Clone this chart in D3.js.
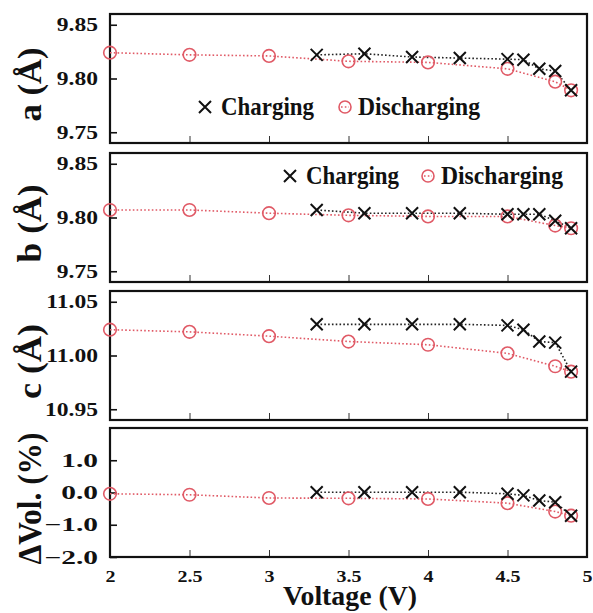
<!DOCTYPE html>
<html>
<head>
<meta charset="utf-8">
<script src="https://cdn.jsdelivr.net/npm/d3@7"></script>
<style>
  body { margin: 0; background: #fff; }
  text { font-family: "Liberation Serif", "Times New Roman", serif; font-weight: bold; fill: #111; }
</style>
</head>
<body>
<div id="chart"></div>
<script>
// voltages of each scan
var chargeV = [3.3, 3.6, 3.9, 4.2, 4.5, 4.6, 4.7, 4.8, 4.9];
var dischargeV = [2.0, 2.5, 3.0, 3.5, 4.0, 4.5, 4.8, 4.9];

// lattice parameters
var aCharge = [9.822, 9.823, 9.820, 9.819, 9.818, 9.8175, 9.809, 9.807, 9.789];
var aDischarge = [9.824, 9.822, 9.821, 9.816, 9.815, 9.809, 9.797, 9.789];
var bCharge = [9.807, 9.804, 9.804, 9.804, 9.803, 9.803, 9.803, 9.797, 9.790];
var bDischarge = [9.807, 9.807, 9.804, 9.802, 9.801, 9.801, 9.7925, 9.790];
var cCharge = [11.029, 11.029, 11.029, 11.029, 11.028, 11.024, 11.013, 11.012, 10.985];
var cDischarge = [11.024, 11.022, 11.018, 11.013, 11.010, 11.002, 10.990, 10.985];
var volCharge = [0.01, 0.01, 0.01, 0.01, -0.04, -0.09, -0.25, -0.30, -0.72];
var volDischarge = [-0.04, -0.07, -0.17, -0.18, -0.20, -0.33, -0.59, -0.72];

var xTicks = [2, 2.5, 3, 3.5, 4, 4.5, 5];
var latticeTicks = [9.75, 9.80, 9.85];
var cTicks = [10.95, 11.00, 11.05];
var volTicks = [-2, -1, 0, 1];

var red = "#e05a66";

var panels = [
  { title: "a (Å)", tlen: 74, charge: aCharge, discharge: aDischarge, domain: [9.74, 9.86], ticks: latticeTicks, fmt: ".2f", top: 14 },
  { title: "b (Å)", tlen: 78, charge: bCharge, discharge: bDischarge, domain: [9.74, 9.86], ticks: latticeTicks, fmt: ".2f", top: 153 },
  { title: "c (Å)", tlen: 75, charge: cCharge, discharge: cDischarge, domain: [10.94, 11.06], ticks: cTicks, fmt: ".2f", top: 291 },
  { title: "ΔVol. (%)", tlen: 132, charge: volCharge, discharge: volDischarge, domain: [-2, 2], ticks: volTicks, fmt: ".1f", top: 428 }
];

var svgWidth = 593, svgHeight = 613;
var left = 110, right = 587, panelH = 129;

var svg = d3.select("#chart").append("svg")
  .attr("width", svgWidth)
  .attr("height", svgHeight);

var x = d3.scaleLinear().domain([2, 5]).range([left, right]);

// the original figure's lettering is stretched, squeeze/stretch text to match
function stretch(sel, k) {
  sel.each(function() {
    var L = this.getComputedTextLength();
    this.setAttribute("textLength", L * k);
    this.setAttribute("lengthAdjust", "spacingAndGlyphs");
  });
}
function fitTo(sel, len) {
  sel.attr("textLength", len).attr("lengthAdjust", "spacingAndGlyphs");
}

function xMark(g, cx, cy, col) {
  g.append("path")
    .attr("d", `M${cx - 6},${cy - 6}L${cx + 6},${cy + 6}M${cx - 6},${cy + 6}L${cx + 6},${cy - 6}`)
    .attr("stroke", col).attr("stroke-width", 2).attr("fill", "none");
}

panels.forEach((p, i) => {
  var y = d3.scaleLinear().domain(p.domain).range([p.top + panelH, p.top]);
  var g = svg.append("g");

  // y axis, ticks pointing in
  g.append("g")
    .attr("transform", `translate(${left},0)`)
    .call(d3.axisLeft(y).tickValues(p.ticks).tickSize(-7).tickPadding(12).tickFormat(d3.format(p.fmt)))
    .call(s => s.select(".domain").remove())
    .call(s => s.selectAll("line").attr("stroke", "#111").attr("stroke-width", 1.6))
    .call(s => s.selectAll("text").attr("font-size", 19).attr("font-family", null).attr("fill", null).call(stretch, 1.24));

  // x axis
  var last = i == panels.length - 1;
  g.append("g")
    .attr("transform", `translate(0,${p.top + panelH})`)
    .call(d3.axisBottom(x).tickValues(xTicks).tickSize(-7).tickPadding(14).tickFormat(last ? d => d : () => ""))
    .call(s => s.select(".domain").remove())
    .call(s => s.selectAll("line").attr("stroke", "#333").attr("stroke-width", 1))
    .call(s => s.selectAll("text").attr("font-size", 16).attr("font-family", null).attr("fill", null));
  if (last) g.selectAll("g.tick text").filter(function() { return this.textContent; }).call(stretch, 1.25);

  // frame
  g.append("rect")
    .attr("x", left).attr("y", p.top)
    .attr("width", right - left).attr("height", panelH)
    .attr("fill", "none").attr("stroke", "#111").attr("stroke-width", 2.2);

  var line = d3.line().x(d => x(d[0])).y(d => y(d[1]));
  var dis = dischargeV.map((v, k) => [v, p.discharge[k]]);
  var chg = chargeV.map((v, k) => [v, p.charge[k]]);

  g.append("path").datum(dis).attr("d", line)
    .attr("fill", "none").attr("stroke", red).attr("stroke-width", 1.6).attr("stroke-dasharray", "1.6,2.2");
  g.append("path").datum(chg).attr("d", line)
    .attr("fill", "none").attr("stroke", "#222").attr("stroke-width", 1.6).attr("stroke-dasharray", "1.6,2.2");

  g.selectAll("circle.dis").data(dis).enter().append("circle")
    .attr("class", "dis")
    .attr("cx", d => x(d[0])).attr("cy", d => y(d[1])).attr("r", 6.3)
    .attr("fill", "none").attr("stroke", red).attr("stroke-width", 1.6);
  chg.forEach(d => xMark(g, x(d[0]), y(d[1]), "#111"));

  // y title
  var ty = p.top + panelH / 2 + 6;
  g.append("text")
    .attr("transform", `translate(41,${ty}) rotate(-90)`)
    .attr("text-anchor", "middle")
    .attr("font-size", 34)
    .text(p.title)
    .call(fitTo, p.tlen);
});

// legends
function legend(cx1, cx2, cy) {
  var g = svg.append("g");
  xMark(g, cx1, cy, "#111");
  g.append("text").attr("x", cx1 + 16).attr("y", cy + 8).attr("font-size", 25).text("Charging").call(fitTo, 93);
  g.append("circle").attr("cx", cx2).attr("cy", cy).attr("r", 6)
    .attr("fill", "none").attr("stroke", red).attr("stroke-width", 1.6);
  g.append("line").attr("x1", cx2 - 4).attr("x2", cx2 + 4).attr("y1", cy).attr("y2", cy)
    .attr("stroke", red).attr("stroke-width", 1.6).attr("stroke-dasharray", "1.6,2.2");
  g.append("text").attr("x", cx2 + 13).attr("y", cy + 8).attr("font-size", 25).text("Discharging").call(fitTo, 122);
}
legend(205, 345, 107);
legend(290, 428, 176);

// x title
svg.append("text")
  .attr("x", 350).attr("y", 605)
  .attr("text-anchor", "middle")
  .attr("font-size", 27)
  .text("Voltage (V)")
  .call(fitTo, 134);
</script>
</body>
</html>
